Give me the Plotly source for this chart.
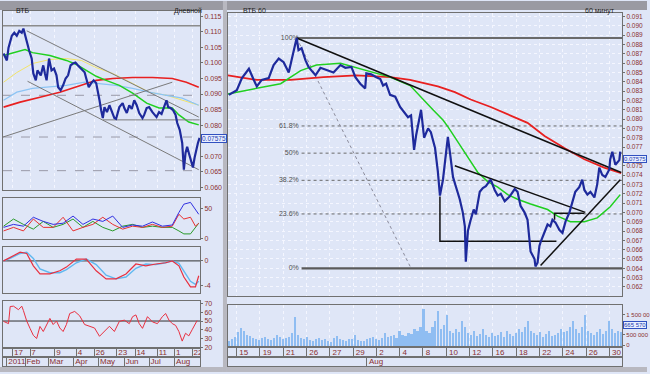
import plotly.graph_objects as go
import numpy as np

W, H = 650, 374
def fx(a, b): return [a / W, b / W]
def fy(top, bottom): return [1 - bottom / H, 1 - top / H]

BG = "#dfe6f7"
GRID = "#f4f6ff"
FRAME = "#707070"
TXT = "#8a3030"
FONT = "Liberation Sans"

# ---------------- LEFT (daily) data: x = day of year 2011 ----------------
left_day = [6, 8, 10, 12, 16, 19, 22, 25, 28, 30, 32, 34, 37, 40, 42, 45, 47, 51, 54, 56, 58, 61, 64, 67, 70,
            72, 75, 78, 81, 84, 87, 90, 93, 96, 100, 104, 106, 109, 112, 115, 118, 120, 122, 124, 126, 128,
            131, 134, 138, 140, 142, 146, 150, 152, 155, 158, 161, 164, 167, 170, 174, 176, 179, 182, 186,
            189, 191, 194, 197, 200, 203, 205, 208, 211, 214, 216, 219, 222, 223, 224, 226, 228, 230, 233,
            235, 237, 239, 241, 243]
left_close = [0.1030, 0.1017, 0.1008, 0.1049, 0.1087, 0.1097, 0.1087, 0.1103, 0.1097, 0.1110, 0.1087, 0.1071,
              0.1039, 0.1014, 0.0966, 0.0944, 0.0976, 0.0960, 0.0992, 0.0966, 0.0944, 0.1014, 0.0976, 0.0982,
              0.0960, 0.0922, 0.0912, 0.0928, 0.0950, 0.0960, 0.0992, 0.0998, 0.1001, 0.0992, 0.0982, 0.0970,
              0.0950, 0.0922, 0.0935, 0.0944, 0.0935, 0.0912, 0.0880, 0.0848, 0.0823, 0.0858, 0.0842, 0.0864,
              0.0835, 0.0823, 0.0820, 0.0858, 0.0871, 0.0855, 0.0839, 0.0864, 0.0852, 0.0880, 0.0864, 0.0839,
              0.0823, 0.0833, 0.0855, 0.0858, 0.0842, 0.0833, 0.0826, 0.0842, 0.0836, 0.0858, 0.0880, 0.0858,
              0.0855, 0.0848, 0.0833, 0.0807, 0.0785, 0.0743, 0.0689, 0.0657, 0.0711, 0.0731, 0.0711, 0.0680,
              0.0664, 0.0696, 0.0721, 0.0743, 0.0759]

ma_green_day = [6, 17, 32, 41, 62, 82, 94, 106, 118, 130, 146, 162, 179, 194, 210, 218, 230, 242]
ma_green_val = [0.1024, 0.1033, 0.1043, 0.1033, 0.1024, 0.1008, 0.0995, 0.0976, 0.0957, 0.0944, 0.0928, 0.0903,
                0.0871, 0.0855, 0.0855, 0.0833, 0.0810, 0.0801]
ma_red_day = [6, 26, 50, 74, 100, 118, 138, 162, 186, 210, 227, 242]
ma_red_val = [0.0858, 0.0874, 0.0890, 0.0906, 0.0928, 0.0944, 0.0950, 0.0953, 0.0953, 0.0950, 0.0938, 0.0922]
ma_yel_day = [6, 22, 41, 62, 82, 100, 118, 138, 162, 182, 203, 222, 242]
ma_yel_val = [0.0938, 0.0969, 0.0998, 0.1011, 0.1014, 0.1008, 0.0985, 0.0966, 0.0934, 0.0906, 0.0896, 0.0880, 0.0864]
ma_lb_day = [6, 22, 41, 62, 82, 104, 122, 142, 162, 182, 203, 222, 242]
ma_lb_val = [0.0880, 0.0906, 0.0918, 0.0922, 0.0928, 0.0938, 0.0934, 0.0928, 0.0918, 0.0906, 0.0896, 0.0887, 0.0864]

# left trend lines: (day, value) endpoints
left_lines = [
    ([34, 242], [0.1103, 0.0826]),
    ([35, 242], [0.0941, 0.0657]),
    ([5.3, 210], [0.0762, 0.0938]),
    ([126, 243], [0.0817, 0.0817]),
]
left_top_level = 0.1119
left_dash_levels = [0.0896, 0.0762, 0.0654]
left_last = 0.07575

# ADX / DMI panel
adx_day = [6, 18, 30, 42, 54, 66, 78, 90, 102, 114, 126, 138, 150, 162, 174, 186, 198, 210, 218, 224, 232, 238, 242]
adx_blue = [18, 23, 20, 35, 28, 23, 25, 37, 23, 32, 28, 37, 18, 22, 20, 27, 20, 22, 43, 57, 60, 48, 40]
adx_red = [12, 18, 12, 32, 18, 18, 35, 12, 18, 23, 35, 23, 15, 20, 18, 23, 18, 20, 40, 32, 35, 20, 25]
adx_green = [20, 32, 23, 15, 28, 18, 23, 32, 18, 28, 18, 12, 20, 23, 18, 20, 18, 18, 12, 7, 7, 18, 25]

# MACD panel
macd_day = [6, 14, 26, 34, 42, 50, 62, 74, 82, 94, 106, 118, 130, 142, 154, 166, 178, 190, 202, 210, 218, 224, 232, 238, 242]
macd_red = [0, 0.6, 1.4, 1.2, -0.8, -2.1, -2.1, -1.6, -1.0, 0.3, 0.3, -1.6, -2.9, -2.9, -2.1, -0.5, -0.8, -0.5,
            -0.3, 0, -0.8, -2.6, -4.2, -4.2, -2.4]
macd_blue = [0, 0.4, 1.2, 1.4, 0.4, -1.3, -1.9, -1.9, -1.4, -0.3, 0.3, -0.6, -2.3, -2.9, -2.6, -1.2, -0.5, -0.6,
             -0.3, 0, -0.4, -1.6, -3.3, -3.8, -3.3]

# RSI panel
rsi_day = [6, 12, 14, 18, 24, 28, 30, 34, 38, 42, 46, 50, 54, 58, 62, 66, 70, 74, 78, 82, 86, 92, 98, 104, 110,
           116, 122, 128, 134, 140, 146, 152, 158, 162, 166, 170, 174, 180, 186, 192, 198, 202, 206, 210, 214,
           218, 222, 226, 230, 234, 240]
rsi_val = [49.6, 47, 66.6, 67, 63, 67, 62, 50, 41.6, 33.6, 30, 43.8, 38, 45, 53, 46, 50, 42, 38, 46, 58.6, 61,
           56, 46, 44, 42, 32.5, 38, 44, 38, 49.6, 51, 47, 55, 57, 47, 41.6, 55, 49, 47, 55, 58.6, 51, 47, 45,
           38, 27, 36, 33, 40, 50.5]

left_sep1 = [17, 38, 68, 94, 116, 143, 165, 192, 213, 234]
left_lab1 = ["17", "7", "9", "4", "26", "23", "14", "11", "1", "22"]
left_sep2 = [10, 32, 60, 91, 121, 152, 182, 213]
left_lab2 = ["2011", "Feb", "Mar", "Apr", "May", "Jun", "Jul", "Aug"]

# ---------------- RIGHT (hourly) data: x = date-tick index ----------------
right_t = [-0.33, 0.01, 0.23, 0.53, 0.74, 0.87, 1.08, 1.38, 1.59, 1.81, 2.02, 2.24, 2.36, 2.53, 2.58, 2.66, 2.79,
           2.96, 3.09, 3.22, 3.39, 3.60, 3.86, 4.16, 4.46, 4.67, 4.93, 5.10, 5.31, 5.52, 5.57, 5.78, 6.00, 6.17,
           6.29, 6.42, 6.59, 6.81, 7.02, 7.24, 7.36, 7.49, 7.58, 7.62, 7.71, 7.92, 8.05, 8.22, 8.34, 8.52, 8.64,
           8.73, 8.86, 8.99, 9.07, 9.16, 9.29, 9.41, 9.58, 9.71, 9.80, 9.84, 9.93, 10.05, 10.18, 10.27, 10.44,
           10.57, 10.70, 10.91, 11.08, 11.21, 11.34, 11.51, 11.72, 11.94, 12.06, 12.19, 12.36, 12.49, 12.58,
           12.62, 12.79, 12.83, 12.92, 13.00, 13.05, 13.22, 13.35, 13.47, 13.56, 13.69, 13.86, 13.99, 14.12,
           14.29, 14.41, 14.54, 14.71, 14.84, 14.93, 15.06, 15.19, 15.36, 15.48, 15.57, 15.70, 15.83, 16.00,
           16.04, 16.13, 16.26, 16.43, 16.47]
right_close = [0.0826, 0.0831, 0.0844, 0.0854, 0.0842, 0.0835, 0.0842, 0.0844, 0.0858, 0.0865, 0.0861, 0.0850,
               0.0863, 0.0884, 0.0887, 0.0874, 0.0876, 0.0863, 0.0856, 0.0852, 0.0847, 0.0855, 0.0853, 0.0850,
               0.0858, 0.0855, 0.0856, 0.0845, 0.0838, 0.0833, 0.0849, 0.0848, 0.0845, 0.0843, 0.0836, 0.0838,
               0.0826, 0.0824, 0.0813, 0.0806, 0.0802, 0.0804, 0.0781, 0.0767, 0.0783, 0.0810, 0.0780, 0.0790,
               0.0786, 0.0769, 0.0744, 0.0718, 0.0735, 0.0764, 0.0781, 0.0764, 0.0738, 0.0728, 0.0714, 0.0700,
               0.0685, 0.0647, 0.0680, 0.0692, 0.0703, 0.0698, 0.0722, 0.0726, 0.0728, 0.0735, 0.0724, 0.0718,
               0.0720, 0.0712, 0.0717, 0.0725, 0.0722, 0.0707, 0.0700, 0.0692, 0.0672, 0.0658, 0.0650, 0.0642,
               0.0646, 0.0664, 0.0668, 0.0678, 0.0687, 0.0685, 0.0692, 0.0689, 0.0681, 0.0678, 0.0690, 0.0700,
               0.0711, 0.0722, 0.0727, 0.0735, 0.0724, 0.0719, 0.0722, 0.0716, 0.0730, 0.0748, 0.0740, 0.0738,
               0.0746, 0.0757, 0.0765, 0.0751, 0.0756, 0.0765]

r_red_t = [-0.37, 0.87, 2.32, 3.73, 5.14, 6.59, 7.45, 8.64, 9.37, 10.05, 10.91, 11.77, 12.49, 13.22, 14.07, 14.93, 15.78, 16.51]
r_red_v = [0.0847, 0.0842, 0.0842, 0.0845, 0.0847, 0.0845, 0.0842, 0.0835, 0.0829, 0.0821, 0.0813, 0.0804,
           0.0796, 0.0782, 0.0769, 0.0757, 0.0748, 0.0742]
r_green_t = [-0.37, 0.87, 1.89, 2.75, 3.43, 4.46, 5.14, 5.87, 6.59, 7.45, 8.0, 8.43, 8.86, 9.07, 9.80, 10.35,
             10.78, 11.21, 11.64, 12.06, 12.62, 13.35, 13.78, 14.33, 14.93, 15.48, 16.04, 16.47]
r_green_v = [0.0827, 0.0833, 0.0838, 0.0852, 0.0858, 0.0860, 0.0855, 0.0850, 0.0845, 0.0836, 0.0821, 0.0810,
             0.0799, 0.0792, 0.0764, 0.0743, 0.0733, 0.0727, 0.0719, 0.0714, 0.0709, 0.0703, 0.0696, 0.0690,
             0.0690, 0.0694, 0.0706, 0.0719]

right_lines = [
    ([2.58, 16.51], [0.0887, 0.07427]),
    ([9.37, 14.97], [0.0750, 0.0700]),
    ([13.05, 16.47], [0.0643, 0.0735]),
    ([8.73, 8.73, 13.73], [0.0717, 0.0669, 0.0669]),
    ([13.65, 13.65, 14.93], [0.0692, 0.0699, 0.0699]),
]
fib_high, fib_low = 0.0887, 0.0640
fib_high_t, fib_start_t = 2.58, 2.79
fib_ratios = [1.0, 0.618, 0.5, 0.382, 0.236, 0.0]
fib_labels = ["100%", "61.8%", "50%", "38.2%", "23.6%", "0%"]
diag_t = [2.58, 7.49]
diag_v = [0.0887, 0.0640]
right_last = 0.07575

vol_k = [250, 300, 420, 650, 850, 700, 500, 450, 380, 300,
         280, 350, 420, 300, 260, 380, 500, 420, 300, 350,
         400, 600, 1400, 500, 350, 300, 420, 280, 250, 300,
         350, 260, 300, 250, 200, 380, 450, 300, 280, 250,
         320, 300, 500, 280, 250, 230, 300, 350, 400, 300,
         280, 350, 600, 400, 450, 500, 380, 700, 500, 450,
         600, 550, 800, 700, 900, 1800, 700, 600, 900, 1200,
         1700, 800, 1000, 1500, 700, 600, 800, 650, 1200, 900,
         600, 500, 700, 450, 550, 800, 500, 400, 600, 450,
         500, 650, 400, 700, 550, 450, 600, 800, 650, 900,
         1200, 700, 600, 500, 650, 400, 550, 700, 450, 500,
         600, 800, 650, 700, 900, 1200, 800, 600, 900, 1500,
         700, 600, 500, 650, 800, 550, 700, 1200, 800, 600, 700, 665]
vol_last_label = "665 570"
right_sep1 = list(range(17))
right_lab1 = ["15", "19", "21", "26", "27", "29", "2", "4", "8", "10", "12", "16", "18", "22", "24", "26", "30"]
right_sep2 = [5.56]
right_lab2 = ["Aug"]

# ---------------- figure ----------------
fig = go.Figure()
L_XR = [5.3, 243.6]
R_XR = [-0.37, 16.55]

def line(x, y, color, width, ax, dash=None):
    fig.add_trace(go.Scatter(x=x, y=y, mode="lines", line=dict(color=color, width=width, dash=dash),
                             xaxis="x" + ax, yaxis="y" + ax, hoverinfo="skip"))

# left price
line([L_XR[0], L_XR[1]], [left_top_level] * 2, "#8c8c8c", 1.5, "")
for lv in left_dash_levels:
    line([L_XR[0], L_XR[1]], [lv] * 2, "#9a9aa8", 1, "", dash="dash")
line(ma_yel_day, ma_yel_val, "#f2e36a", 1, "")
line(ma_lb_day, ma_lb_val, "#8cc4f4", 1.2, "")
line(ma_red_day, ma_red_val, "#e82020", 1.6, "")
line(ma_green_day, ma_green_val, "#20d020", 1.5, "")
for xs, ys in left_lines:
    line(xs, ys, "#7a7a7a", 1, "")
line(left_day, left_close, "#1e2a9c", 2.2, "")

# ADX
line(adx_day, adx_green, "#2a9a2a", 1, "2")
line(adx_day, adx_red, "#e83030", 1, "2")
line(adx_day, adx_blue, "#3030e0", 1, "2")
# MACD
line([L_XR[0], L_XR[1]], [0, 0], "#303030", 1, "3")
line(macd_day, macd_blue, "#60b8f0", 1.4, "3")
line(macd_day, macd_red, "#e83040", 1.2, "3")
# RSI
line([L_XR[0], L_XR[1]], [50, 50], "#303030", 1, "4")
line(rsi_day, rsi_val, "#e83040", 1, "4")

# left date strips
fig.add_trace(go.Scatter(x=[s + 1.6 for s in left_sep1], y=[0.5] * len(left_sep1), mode="text", text=left_lab1,
                         textposition="middle right", textfont=dict(size=8, color=TXT, family=FONT),
                         xaxis="x5", yaxis="y5", hoverinfo="skip"))
fig.add_trace(go.Scatter(x=[s + 1.6 for s in left_sep2], y=[0.5] * len(left_sep2), mode="text", text=left_lab2,
                         textposition="middle right", textfont=dict(size=8, color=TXT, family=FONT),
                         xaxis="x6", yaxis="y6", hoverinfo="skip"))

# right price
line([fib_high_t, R_XR[1]], [fib_high] * 2, "#6a6a6a", 2.2, "7")
for r in fib_ratios[1:-1]:
    lv = fib_low + r * (fib_high - fib_low)
    line([fib_start_t, R_XR[1]], [lv] * 2, "#6a6a6a", 1, "7", dash="dot")
line([fib_start_t, R_XR[1]], [fib_low] * 2, "#5a5a5a", 2.2, "7")
line(diag_t, diag_v, "#8a8a9a", 1, "7", dash="dot")
fig.add_trace(go.Scatter(x=[fib_start_t - 0.12] * len(fib_ratios),
                         y=[fib_low + r * (fib_high - fib_low) for r in fib_ratios],
                         mode="text", text=fib_labels, textposition="middle left",
                         textfont=dict(size=7, color="#505050", family=FONT), xaxis="x7", yaxis="y7",
                         hoverinfo="skip"))
line(r_red_t, r_red_v, "#e82020", 1.8, "7")
line(r_green_t, r_green_v, "#20d020", 1.5, "7")
for xs, ys in right_lines:
    line(xs, ys, "#101010", 1.5, "7")
line(right_t, right_close, "#1e2a9c", 2.2, "7")

# volume
fig.add_trace(go.Bar(x=np.linspace(-0.33, 16.5, len(vol_k)), y=[v * 1000 for v in vol_k],
                     marker=dict(color="#8fbdf2", line=dict(width=0)), width=0.09,
                     xaxis="x8", yaxis="y8", hoverinfo="skip"))

fig.add_trace(go.Scatter(x=[s + 0.12 for s in right_sep1], y=[0.5] * len(right_sep1), mode="text", text=right_lab1,
                         textposition="middle right", textfont=dict(size=8, color=TXT, family=FONT),
                         xaxis="x9", yaxis="y9", hoverinfo="skip"))
fig.add_trace(go.Scatter(x=[s + 0.12 for s in right_sep2], y=[0.5], mode="text", text=right_lab2,
                         textposition="middle right", textfont=dict(size=8, color=TXT, family=FONT),
                         xaxis="x10", yaxis="y10", hoverinfo="skip"))

# ---------------- axes ----------------
lay = dict(width=W, height=H, margin=dict(l=0, r=0, t=0, b=0), showlegend=False,
           paper_bgcolor=BG, plot_bgcolor=BG, bargap=0,
           font=dict(family=FONT, size=8, color=TXT))

def xax(dom, rng, anchor, grid_vals=None, solid=False):
    d = dict(domain=fx(*dom), range=rng, anchor=anchor, showticklabels=False, ticks="",
             zeroline=False, showline=True, linecolor=FRAME, mirror=True, fixedrange=True)
    if grid_vals is not None:
        d.update(tickmode="array", tickvals=grid_vals, showgrid=True, gridwidth=1,
                 gridcolor=FRAME if solid else GRID, griddash="solid" if solid else "dot")
    else:
        d.update(showgrid=False)
    return d

def yax(dom, rng, anchor, tickvals=None, ticktext=None, grid=False, fs=7):
    d = dict(domain=fy(*dom), range=rng, anchor=anchor, side="right", zeroline=False, showline=True,
             linecolor=FRAME, mirror=True, fixedrange=True, showgrid=grid, gridcolor=GRID, griddash="dot")
    if tickvals is None:
        d.update(showticklabels=False, ticks="")
    else:
        d.update(tickmode="array", tickvals=tickvals, ticktext=ticktext, ticks="outside", ticklen=2,
                 tickcolor=FRAME, tickfont=dict(size=fs, color=TXT, family=FONT))
    return d

lp_ticks = [0.060, 0.065, 0.070, 0.080, 0.085, 0.090, 0.095, 0.100, 0.105, 0.110, 0.115]
lay["xaxis"] = xax((3, 201), L_XR, "y", grid_vals=left_sep1)
lay["yaxis"] = yax((10, 191), [0.05904, 0.11669], "x", lp_ticks, ["%.3f" % v for v in lp_ticks])
lay["xaxis2"] = xax((3, 201), L_XR, "y2")
lay["yaxis2"] = yax((199, 240), [-1.7, 66.7], "x2", [0, 50], ["0", "50"])
lay["xaxis3"] = xax((3, 201), L_XR, "y3")
lay["yaxis3"] = yax((248, 294), [-5.12, 2.24], "x3", [-4, 0], ["-4", "0"])
lay["xaxis4"] = xax((3, 201), L_XR, "y4")
lay["yaxis4"] = yax((302, 350), [18.9, 73.4], "x4", [20, 30, 40, 50, 60, 70], ["20", "30", "40", "50", "60", "70"])
lay["xaxis5"] = xax((3, 201), L_XR, "y5", grid_vals=left_sep1, solid=True)
lay["yaxis5"] = yax((350, 359), [0, 1], "x5")
lay["xaxis6"] = xax((3, 201), L_XR, "y6", grid_vals=left_sep2, solid=True)
lay["yaxis6"] = yax((359, 368), [0, 1], "x6")

rp_ticks = [round(0.062 + 0.001 * i, 3) for i in range(30) if i != 14]
lay["xaxis7"] = xax((229, 625), R_XR, "y7", grid_vals=right_sep1)
lay["yaxis7"] = yax((12, 297), [0.06107, 0.09139], "x7", rp_ticks, ["%.3f" % v for v in rp_ticks], grid=True, fs=6.5)
lay["xaxis8"] = xax((229, 625), R_XR, "y8", grid_vals=right_sep1)
lay["yaxis8"] = yax((306, 348), [-50000, 1980000], "x8", [0, 500000, 1500000], ["0", "500 000", "1 500 00"], fs=6)
lay["xaxis9"] = xax((229, 625), R_XR, "y9", grid_vals=right_sep1, solid=True)
lay["yaxis9"] = yax((350, 359), [0, 1], "x9")
lay["xaxis10"] = xax((229, 625), R_XR, "y10", grid_vals=right_sep2, solid=True)
lay["yaxis10"] = yax((359, 368), [0, 1], "x10")

fig.update_layout(**lay)

# ---------------- window chrome ----------------
def prect(x0, y0, x1, y1, fill, line_color=None, lw=0):
    fig.add_shape(type="rect", xref="paper", yref="paper", x0=x0 / W, x1=x1 / W, y0=1 - y1 / H, y1=1 - y0 / H,
                  fillcolor=fill, line=dict(color=line_color or fill, width=lw), layer="below")

prect(224, 0, 228, 374, "#b8b8c0")
prect(0, 0, 224, 9, "#9a9aa2")
prect(228, 0, 650, 9, "#9a9aa2")
prect(0, 369, 224, 374, "#b8b8c0")
prect(228, 369, 650, 374, "#b8b8c0")

fig.add_annotation(x=14 / W, y=1 - 4.5 / H, xref="paper", yref="paper", text="ВТБ", showarrow=False,
                   xanchor="left", font=dict(size=7, color="#202020", family=FONT))
fig.add_annotation(x=242 / W, y=1 - 4.5 / H, xref="paper", yref="paper", text="ВТБ 60", showarrow=False,
                   xanchor="left", font=dict(size=7, color="#202020", family=FONT))
fig.add_annotation(x=205 / W, y=1 - 4.5 / H, xref="paper", yref="paper", text="Дневной", showarrow=False,
                   xanchor="right", font=dict(size=7, color="#202020", family=FONT))
fig.add_annotation(x=620 / W, y=1 - 4.5 / H, xref="paper", yref="paper", text="60 минут", showarrow=False,
                   xanchor="right", font=dict(size=7, color="#202020", family=FONT))

# last value boxes
fig.add_annotation(x=202 / W, y=left_last, xref="paper", yref="y", text="%.5f" % left_last, showarrow=False,
                   xanchor="left", bgcolor="#e8eeff", bordercolor="#3050c0", borderwidth=1, borderpad=0,
                   font=dict(size=6.5, color="#2040b0", family=FONT))
fig.add_annotation(x=626 / W, y=right_last, xref="paper", yref="y7", text="%.5f" % right_last, showarrow=False,
                   xanchor="left", bgcolor="#e8eeff", bordercolor="#3050c0", borderwidth=1, borderpad=0,
                   font=dict(size=6, color="#2040b0", family=FONT))
fig.add_annotation(x=626 / W, y=1000000, xref="paper", yref="y8", text=vol_last_label, showarrow=False,
                   xanchor="left", bgcolor="#e8eeff", bordercolor="#3050c0", borderwidth=1, borderpad=0,
                   font=dict(size=6, color="#2040b0", family=FONT))

fig.write_html("out.html", config={"displayModeBar": False},
               post_script="document.body.style.margin='0px';document.body.style.overflow='hidden';")
